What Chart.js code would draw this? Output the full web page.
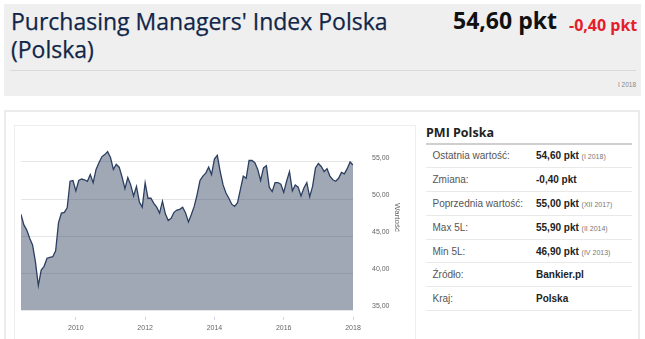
<!DOCTYPE html>
<html lang="pl">
<head>
<meta charset="utf-8">
<title>PMI Polska</title>
<script src="https://cdn.jsdelivr.net/npm/chart.js@4/dist/chart.umd.min.js"></script>
<style>
  html, body { margin: 0; padding: 0; background: #fff; }
  body { position: relative; width: 645px; height: 339px; overflow: hidden; font-family: "Liberation Sans", Arial, sans-serif; }
  .head { position: absolute; left: 4px; top: 4px; width: 637px; height: 92px; background: #efefef; }
  .ttl { position: absolute; left: 7px; font-family: "Open Sans", sans-serif; font-size: 23px; line-height: 23px; color: #112648; white-space: nowrap; -webkit-text-stroke: 0.25px #112648; }
  .l1 { top: 5.5px; }
  .l2 { top: 34px; }
  .val { position: absolute; left: 449px; top: 5px; font-family: "Open Sans", sans-serif; font-weight: 700; font-size: 23px; line-height: 23px; color: #111; white-space: nowrap; }
  .chg { position: absolute; left: 565px; top: 13px; font-family: "Open Sans", sans-serif; font-weight: 700; font-size: 16px; line-height: 16px; color: #e3202a; white-space: nowrap; }
  .sep { position: absolute; left: 6px; top: 66px; width: 626px; height: 1px; background: #dadada; }
  .date { position: absolute; right: 5px; top: 77px; font-size: 6.5px; color: #888; }
  .panel { position: absolute; left: 4px; top: 110px; width: 636px; height: 260px; border: 2px solid #ebebeb; box-sizing: border-box; }
  .chartbox { position: absolute; left: 14px; top: 125px; width: 402px; height: 240px; border: 1px solid #eeeeee; box-sizing: border-box; }
  .wrap { position: absolute; left: 14px; top: 125px; width: 401px; height: 214px; }
  .info { position: absolute; left: 426px; top: 110px; width: 206px; }
  .infoTitle { position: absolute; left: 0; top: 15px; width: 206px; height: 18px; font-family: "Open Sans", sans-serif; font-weight: 700; font-size: 12.5px; line-height: 16px; color: #222; border-bottom: 2px solid #cfcfcf; }
  .row { position: absolute; left: 0; width: 206px; height: 23.8px; border-bottom: 1px solid #e9e9e9; box-sizing: border-box; display: flex; align-items: center; font-size: 10px; }
  .k { position: absolute; left: 6.5px; color: #555; }
  .v { position: absolute; left: 110px; color: #222; font-weight: 700; white-space: nowrap; }
  .v small { font-weight: 400; font-size: 7px; color: #777; }
</style>
</head>
<body>
<div class="head">
  <div class="ttl l1">Purchasing Managers' Index Polska</div>
  <div class="ttl l2">(Polska)</div>
  <div class="val">54,60 pkt</div>
  <div class="chg">-0,40 pkt</div>
  <div class="sep"></div>
  <div class="date">I 2018</div>
</div>
<div class="panel"></div>
<div class="chartbox"></div>
<div class="wrap"><canvas id="pmiChart" width="401" height="214"></canvas></div>
<div class="info">
  <div class="infoTitle">PMI Polska</div>
  <div class="row" style="top:34.5px"><span class="k">Ostatnia wartość:</span><span class="v">54,60 pkt <small>(I 2018)</small></span></div>
  <div class="row" style="top:58.3px"><span class="k">Zmiana:</span><span class="v">-0,40 pkt</span></div>
  <div class="row" style="top:82.1px"><span class="k">Poprzednia wartość:</span><span class="v">55,00 pkt <small>(XII 2017)</small></span></div>
  <div class="row" style="top:105.9px"><span class="k">Max 5L:</span><span class="v">55,90 pkt <small>(II 2014)</small></span></div>
  <div class="row" style="top:129.7px"><span class="k">Min 5L:</span><span class="v">46,90 pkt <small>(IV 2013)</small></span></div>
  <div class="row" style="top:153.5px"><span class="k">Źródło:</span><span class="v">Bankier.pl</span></div>
  <div class="row" style="top:177.3px"><span class="k">Kraj:</span><span class="v">Polska</span></div>
</div>
<script>
// Monthly PMI readings, June 2008 – January 2018
const firstMonth = { year: 2008, month: 6 };
const pmiValues = [
  47.9, 46.5, 45.8, 44.7, 43.8, 41.5, 38.3,                           // 2008 (VI–XII)
  40.4, 40.9, 42.0, 42.1, 42.2, 43.0, 46.8, 48.1, 48.2, 48.8, 52.4, 52.5, // 2009
  51.1, 52.5, 52.7, 52.6, 52.4, 53.3, 52.2, 54.0, 54.9, 55.7, 56.0, 56.4, // 2010
  55.6, 54.0, 54.7, 54.3, 53.0, 51.4, 52.9, 51.9, 50.4, 51.7, 49.6, 48.9, // 2011
  52.2, 50.1, 50.1, 49.4, 48.9, 48.1, 49.7, 48.0, 47.1, 47.4, 48.2, 48.5, // 2012
  48.6, 48.9, 48.1, 46.9, 47.9, 49.0, 50.6, 52.5, 53.1, 53.5, 54.3, 53.3, // 2013
  55.4, 55.9, 53.7, 51.9, 50.8, 50.1, 49.3, 49.0, 49.5, 51.3, 53.1, 52.8, // 2014
  55.2, 55.2, 54.9, 54.0, 52.5, 54.2, 54.5, 51.6, 51.0, 52.2, 52.2, 52.0, // 2015
  50.9, 52.4, 53.7, 51.1, 51.9, 51.6, 50.4, 51.5, 52.2, 50.3, 51.7, 54.2, // 2016
  54.8, 54.4, 53.7, 54.1, 53.1, 52.6, 52.4, 52.8, 53.6, 53.4, 54.1, 55.0, // 2017
  54.6                                                                  // 2018 (I)
];
const yearTicks = [2010, 2012, 2014, 2016, 2018];
const valueTicks = [35, 40, 45, 50, 55];
const valueRange = { min: 35, max: 60 };

// month index -> fractional year on the time axis
const monthPosition = i => firstMonth.year + (firstMonth.month - 1 + i) / 12;
const points = pmiValues.map((v, i) => ({ x: monthPosition(i), y: v }));

const axisFont = { family: '"Liberation Sans", Arial, sans-serif', size: 7 };

new Chart(document.getElementById('pmiChart'), {
  type: 'line',
  data: {
    datasets: [{
      data: points,
      borderColor: '#2c3f60',
      borderWidth: 1.3,
      backgroundColor: 'rgba(47,65,96,0.46)',
      fill: 'start',
      pointRadius: 0,
      tension: 0
    }]
  },
  options: {
    responsive: false,
    devicePixelRatio: 1,
    animation: false,
    layout: { padding: { left: 7, top: 0, right: 0, bottom: 0 } },
    plugins: { legend: { display: false }, tooltip: { enabled: false } },
    scales: {
      x: {
        type: 'linear',
        min: monthPosition(0),
        max: monthPosition(pmiValues.length - 1),
        afterBuildTicks: s => { s.ticks = yearTicks.map(v => ({ value: v })); },
        afterFit: s => { s.height = 29; s.paddingLeft = 0; s.paddingRight = 0; },
        border: { display: false },
        grid: {
          drawOnChartArea: false,
          drawTicks: true,
          tickLength: 10,
          tickColor: '#ccd6eb',
          tickWidth: 1,
          tickBorderDash: [0, 7, 3, 100]
        },
        ticks: {
          autoSkip: false,
          maxRotation: 0,
          padding: 4,
          color: '#666',
          font: axisFont,
          callback: v => String(v)
        }
      },
      y: {
        position: 'right',
        min: valueRange.min,
        max: valueRange.max,
        afterBuildTicks: s => { s.ticks = valueTicks.map(v => ({ value: v })); },
        afterFit: s => { s.width = 62; s.paddingTop = 0; s.paddingBottom = 0; },
        border: { display: false },
        grid: {
          color: '#e6e6e6',
          lineWidth: 1,
          drawTicks: true,
          tickLength: 19,
          tickColor: 'rgba(0,0,0,0)'
        },
        ticks: {
          padding: 0,
          crossAlign: 'near',
          labelOffset: -4,
          color: '#666',
          font: axisFont,
          callback: v => v.toFixed(2).replace('.', ',')
        },
        title: {
          display: true,
          text: 'Wartość',
          color: '#666',
          font: { family: '"Liberation Sans", Arial, sans-serif', size: 8 },
          padding: { top: 12.5, bottom: 0 }
        }
      }
    }
  }
});
</script>
</body>
</html>
